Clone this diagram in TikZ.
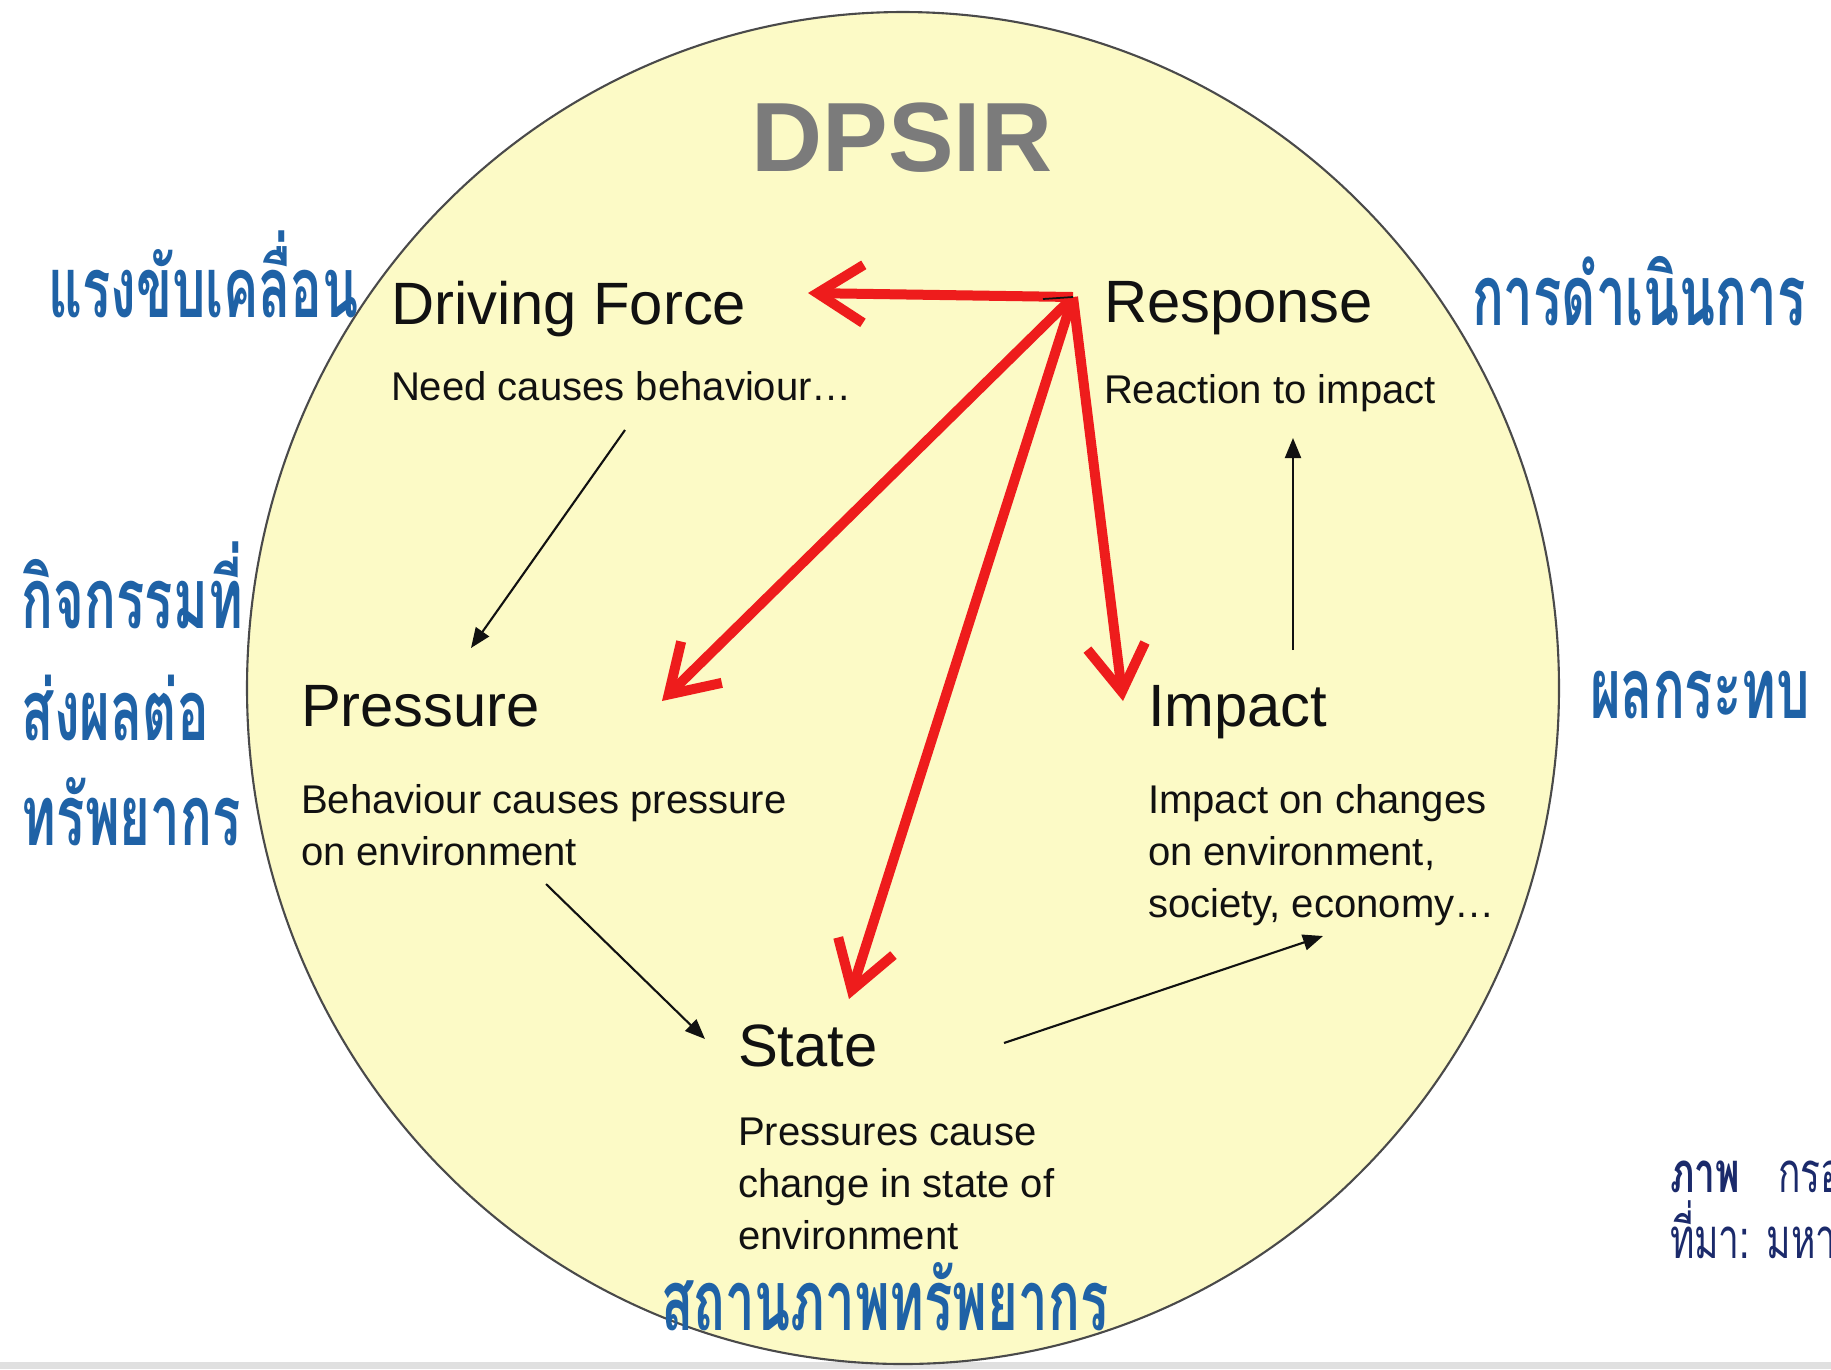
\documentclass[tikz,border=0pt]{standalone}
\usepackage{fontspec}
\setmainfont{Liberation Sans}
\newfontfamily\thaifont[Script=Thai,FakeStretch=0.625]{Loma}
\newfontfamily\capfont[Script=Thai,FakeStretch=0.66]{Loma}
\usetikzlibrary{arrows.meta,calc}
\definecolor{ink}{HTML}{111111}
\definecolor{paper}{HTML}{FCFAC6}
\definecolor{rim}{HTML}{4A4A4A}
\definecolor{hot}{HTML}{EE1C1C}
\definecolor{thaiblue}{HTML}{1F62A6}
\definecolor{navy}{HTML}{1B2A6B}
\definecolor{titlegray}{HTML}{7B7B7B}
\tikzset{
  >={Triangle[length=2mm,width=1.6mm]},
  every node/.style={inner sep=0pt, outer sep=0pt, text=ink},
  disc/.style={draw=rim, fill=paper, line width=0.6pt},
  strip/.style={fill=black!12},
  title/.style={font=\fontsize{28}{32}\selectfont\bfseries, text=titlegray},
  head/.style={font=\fontsize{17}{20}\selectfont, anchor=base west},
  desc/.style={font=\fontsize{11.4}{14.8}\selectfont, anchor=north west, align=left},
  thai/.style={font=\thaifont\bfseries\fontsize{24}{28}\selectfont, text=thaiblue, anchor=base west},
  capline/.style={font=\capfont\fontsize{16}{20}\selectfont, text=navy, anchor=base west},
  push/.style={draw=hot, line width=1mm, -{Straight Barb[length=4.6mm,width=5.8mm]}},
  flow/.style={->, draw=ink, line width=0.6pt},
  stub/.style={draw=ink, line width=0.5pt}
}

\begin{document}
\begin{tikzpicture}[x=0.1mm, y=-0.1mm]
  \useasboundingbox (0,0) rectangle (1831,1369);
  \clip (0,0) rectangle (1831,1369);
  % Page and the grey strip along the bottom
  \fill[white] (0,0) rectangle (1831,1369);
  \fill[strip] (0,1362) rectangle (1831,1369);

  % Yellow disc
  \draw[disc] (903,688) ellipse (65.6mm and 67.6mm);
  \node[title] (dpsir) at (902,138) {DPSIR};

  % Stages and their short notes
  \node[head] (driving) at (391,324) {Driving Force};
  \node[desc] (drivingtxt) at (391,371) {Need causes behaviour\ldots};
  \node[head] (response) at (1104,322) {Response};
  \node[desc] (responsetxt) at (1104,374) {Reaction to impact};
  \node[head] (pressure) at (301,726) {Pressure};
  \node[desc] (pressuretxt) at (301,784) {Behaviour causes pressure\\on environment};
  \node[head] (impact) at (1148,726) {Impact};
  \node[desc] (impacttxt) at (1148,784) {Impact on changes\\on environment,\\society, economy\ldots};
  \node[head] (state) at (738,1066) {State};
  \node[desc] (statetxt) at (738,1118) {Pressures cause\\change in state of\\environment};

  % Thai labels round the disc
  \node[thai] (lbldriving) at (48,317) {แรงขับเคลื่อน};
  \node[thai] (lblresponse) at (1472,325) {การดำเนินการ};
  \node[thai] (lblpress1) at (22,628) {กิจกรรมที่};
  \node[thai] (lblpress2) at (22,740) {ส่งผลต่อ};
  \node[thai] (lblpress3) at (22,845) {ทรัพยากร};
  \node[thai] (lblimpact) at (1590,718) {ผลกระทบ};
  \node[thai] (lblstate) at (661,1330) {สถานภาพทรัพยากร};

  % Caption, cut by the right edge
  \node[capline, font=\capfont\bfseries\fontsize{16}{20}\selectfont] (capfig) at (1670,1192) {ภาพ};
  \node[capline] (capname) at (1778,1192) {กรอ};
  \node[capline] (capsrc) at (1670,1258) {ที่มา: มหา};

  % Black cycle arrows
  \coordinate (dp0) at (625,430);  \coordinate (dp1) at (471,648);
  \coordinate (ps0) at (546,884);  \coordinate (ps1) at (705,1039);
  \coordinate (si0) at (1004,1043); \coordinate (si1) at (1323,936);
  \coordinate (ir0) at (1293,650); \coordinate (ir1) at (1293,438);
  \draw[flow] (dp0) -- (dp1);
  \draw[flow] (ps0) -- (ps1);
  \draw[flow] (si0) -- (si1);
  \draw[flow] (ir0) -- (ir1);

  % Red arrows out of Response
  \coordinate (hub) at (1073,297);
  \coordinate (todriving) at (808,293);
  \coordinate (topressure) at (662,701);
  \coordinate (tostate) at (849,999);
  \coordinate (toimpact) at (1123,701);
  \draw[push] (hub) -- (todriving);
  \draw[push] (hub) -- (topressure);
  \draw[push] (hub) -- (tostate);
  \draw[push] (hub) -- (toimpact);
  \coordinate (stubend) at (1043,299);
  \draw[stub] (stubend) -- (hub);
\end{tikzpicture}
\end{document}
